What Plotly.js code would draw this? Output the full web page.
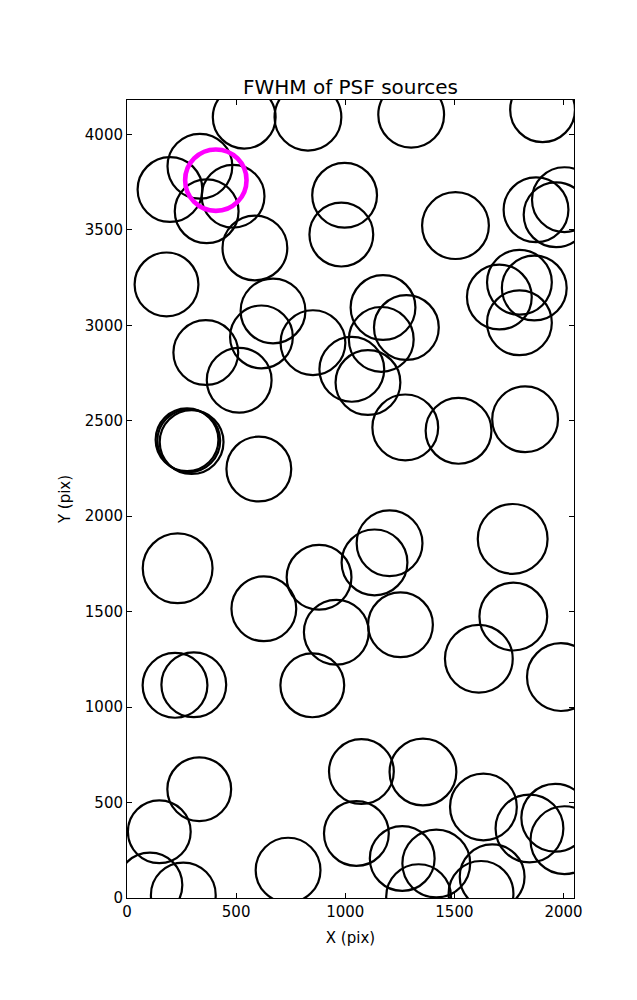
<!DOCTYPE html>
<html>
<head>
<meta charset="utf-8">
<script src="https://cdn.plot.ly/plotly-3.0.1.min.js"></script>
<style>html,body{margin:0;padding:0;background:#fff;}#chart{width:637px;height:1000px;}</style>
</head>
<body>
<div id="chart"></div>
<script>
// Source positions (image pixels) and FWHM (arbitrary units, proportional to drawn circle size)
const srcX = [537, 829, 1302, 1904, 334, 197, 365, 486, 586, 181, 997, 982, 1505, 1874, 1966, 2004,
  1706, 1798, 1866, 1798, 1173, 1280, 1165, 1030, 1104, 1275, 1519, 1824, 361, 514, 616, 669, 852,
  275, 283, 296, 604, 232, 627, 880, 959, 1203, 1134, 1253, 1767, 1770, 1612, 1988, 220, 306, 849,
  331, 148, 105, 258, 738, 1074, 1051, 1356, 1261, 1417, 1336, 1633, 1844, 1962, 2004, 1622, 1673];
const srcY = [4090, 4090, 4103, 4129, 3833, 3711, 3597, 3676, 3405, 3214, 3681, 3475, 3522, 3605, 3579, 3658,
  3148, 3225, 3195, 3013, 3093, 2988, 2926, 2769, 2700, 2465, 2447, 2508, 2857, 2712, 2939, 3075, 2909,
  2400, 2395, 2388, 2247, 1727, 1515, 1680, 1392, 1858, 1758, 1431, 1881, 1474, 1253, 1157, 1114, 1117, 1114,
  570, 347, 68, 16, 146, 662, 338, 660, 207, 181, 7, 477, 364, 420, 303, 24, 111];
const srcFwhm = [6.5, 6.9, 6.8, 6.7, 6.7, 6.7, 6.6, 6.5, 6.7, 6.6, 6.7, 6.6, 6.9, 6.7, 6.7, 6.7,
  6.7, 6.7, 6.7, 6.7, 6.7, 6.7, 6.7, 6.7, 6.7, 6.8, 6.8, 6.8, 6.7, 6.7, 6.5, 6.7, 6.7,
  6.5, 6.5, 6.6, 6.7, 7.2, 6.7, 6.7, 6.7, 6.8, 6.8, 6.7, 7.2, 7.0, 7.0, 7.0, 6.7, 6.7, 6.6,
  6.6, 6.5, 6.7, 6.7, 6.7, 6.7, 6.7, 6.9, 6.7, 7.0, 6.7, 6.9, 7.0, 7.0, 7.0, 6.7, 6.7];
// Highlighted source
const selX = [407];
const selY = [3760];
const selFwhm = [6.6];

const xRange = [0, 2048];
const yRange = [0, 4180];
const xTicks = [0, 500, 1000, 1500, 2000];
const yTicks = [0, 500, 1000, 1500, 2000, 2500, 3000, 3500, 4000];

const PX_PER_FWHM = 10;
const lw = 2.2, selLw = 4.6;

const traces = [
  {
    type: 'scatter', mode: 'markers', x: srcX, y: srcY, hoverinfo: 'skip',
    marker: {symbol: 'circle-open', color: '#000000', opacity: 1,
      size: srcFwhm.map(f => f * PX_PER_FWHM - lw),
      line: {width: lw, color: '#000000'}}
  },
  {
    type: 'scatter', mode: 'markers', x: selX, y: selY, hoverinfo: 'skip',
    marker: {symbol: 'circle-open', color: '#ff00ff', opacity: 1,
      size: selFwhm.map(f => f * PX_PER_FWHM - selLw),
      line: {width: selLw, color: '#ff00ff'}}
  }
];

const axisCommon = {
  showgrid: false, zeroline: false, showline: true, linecolor: '#000', linewidth: 1,
  mirror: 'ticks', ticks: 'inside', ticklen: 5, tickwidth: 1, tickcolor: '#000',
  tickfont: {family: 'DejaVu Sans', size: 15, color: '#000'}
};

const layout = {
  width: 637, height: 1000,
  margin: {l: 127, r: 63, t: 100, b: 102},
  paper_bgcolor: '#fff', plot_bgcolor: '#fff',
  showlegend: false,
  font: {family: 'DejaVu Sans', color: '#000'},
  title: {text: 'FWHM of PSF sources', font: {family: 'DejaVu Sans', size: 20, color: '#000'},
    x: 0.5, xref: 'paper', y: 0.913, yref: 'container', yanchor: 'middle'},
  xaxis: Object.assign({}, axisCommon, {range: xRange, tickvals: xTicks, ticktext: xTicks.map(String),
    title: {text: 'X (pix)', font: {family: 'DejaVu Sans', size: 15, color: '#000'}, standoff: 12}}),
  yaxis: Object.assign({}, axisCommon, {range: yRange, tickvals: yTicks, ticktext: yTicks.map(String),
    title: {text: 'Y (pix)', font: {family: 'DejaVu Sans', size: 15, color: '#000'}, standoff: 10}})
};

Plotly.newPlot('chart', traces, layout, {staticPlot: true, displayModeBar: false});
</script>
</body>
</html>
